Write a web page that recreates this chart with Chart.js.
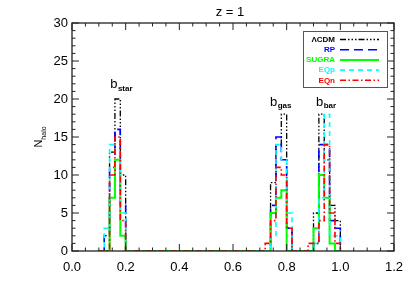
<!DOCTYPE html>
<html>
<head>
<meta charset="utf-8">
<script src="https://cdn.jsdelivr.net/npm/chart.js@4.4.1/dist/chart.umd.min.js"></script>
<style>
  html, body { margin: 0; padding: 0; background: #ffffff; }
  #wrap { width: 415px; height: 297px; }
</style>
</head>
<body>
<div id="wrap"><canvas id="myChart" width="415" height="297"></canvas></div>
<script>
// left edge of every bin (width 0.02); a bin holds its count until the next edge
const binLeft = [0.10, 0.12, 0.14, 0.16, 0.18, 0.20,
                 0.70, 0.72, 0.74, 0.76, 0.78, 0.80, 0.82,
                 0.86, 0.88, 0.90, 0.92, 0.94, 0.96, 0.98, 1.00];

const lcdm  = [0, 0, 13, 20, 10, 0,  0, 0, 9, 14, 18, 3, 0,  0, 0, 5, 18, 12, 6, 4, 0];
const rp    = [0, 2, 11, 16, 6, 0,   0, 0, 6, 15, 12, 3, 0,  0, 0, 1, 14, 14, 4, 3, 0];
const sugra = [0, 0, 7, 12, 2, 0,    0, 0, 5, 7, 8, 0, 0,    0, 0, 3, 10, 7, 1, 0, 0];
const eqp   = [0, 3, 14, 13, 5, 0,   0, 0, 2, 14, 12, 5, 0,  0, 0, 1, 7, 18, 2, 2, 0];
const eqn   = [0, 0, 10, 15, 4, 0,   0, 1, 4, 11, 10, 3, 0,  0, 1, 1, 4, 14, 5, 1, 0];

const seriesNames = ['\u039BCDM', 'RP', 'SUGRA', 'EQp', 'EQn'];
const seriesData = [lcdm, rp, sugra, eqp, eqn];

const xTicks = [0.0, 0.2, 0.4, 0.6, 0.8, 1.0, 1.2];
const yTicks = [0, 5, 10, 15, 20, 25, 30];

// group labels: [main, subscript, x, y]
const groupLabels = [['b', 'star', 0.183, 21.4], ['b', 'gas', 0.777, 19.1], ['b', 'bar', 0.946, 19.1]];

const colors = ['#000000', '#0000ff', '#00ff00', '#00ffff', '#ff0000'];
const dashes = [
    [6, 2, 1.5, 2, 1.5, 2, 1.5, 2], // dash dot dot dot
    [9, 5],                          // long dash
    [],                              // solid
    [5, 4],                          // dash
    [6, 2.5, 1.5, 2.5],              // dash dot
];
const widths = [1.3, 1.6, 2, 1.6, 1.6];

const FONT = '"Liberation Sans", Arial, Helvetica, sans-serif';

const datasets = seriesData.map((vals, i) => ({
    label: seriesNames[i],
    data: vals.map((v, j) => ({ x: binLeft[j], y: v })),
    borderColor: colors[i],
    borderWidth: widths[i],
    borderDash: dashes[i],
    stepped: true,
    pointRadius: 0,
    fill: false,
    order: 5 - i, // EQn drawn on top
}));

// frame with inward ticks on all four sides, IDL style
const framePlugin = {
    id: 'frame',
    afterDraw: (chart) => {
        const ctx = chart.ctx;
        const a = chart.chartArea;
        const xs = chart.scales.x, ys = chart.scales.y;
        ctx.save();
        ctx.strokeStyle = '#222';
        ctx.lineWidth = 1.3;
        ctx.strokeRect(a.left, a.top, a.right - a.left, a.bottom - a.top);
        ctx.lineWidth = 1;
        ctx.beginPath();
        for (let k = 0; k <= 24; k++) {
            const v = k * 0.05;
            const px = xs.getPixelForValue(v);
            const len = (k % 4 === 0) ? 7 : 3.5;
            ctx.moveTo(px, a.bottom); ctx.lineTo(px, a.bottom - len);
            ctx.moveTo(px, a.top); ctx.lineTo(px, a.top + len);
        }
        for (let k = 0; k <= 30; k++) {
            const py = ys.getPixelForValue(k);
            const len = (k % 5 === 0) ? 7 : 3.5;
            ctx.moveTo(a.left, py); ctx.lineTo(a.left + len, py);
            ctx.moveTo(a.right, py); ctx.lineTo(a.right - len, py);
        }
        ctx.stroke();

        // title
        ctx.fillStyle = '#000';
        ctx.font = '13px ' + FONT;
        ctx.textAlign = 'center';
        ctx.textBaseline = 'middle';
        ctx.fillText('z = 1', 230, 12);

        // y title N_halo
        ctx.save();
        ctx.translate(38, 137);
        ctx.rotate(-Math.PI / 2);
        ctx.textAlign = 'left';
        ctx.textBaseline = 'alphabetic';
        ctx.font = '11px ' + FONT;
        const nW = ctx.measureText('N').width;
        ctx.font = '7px ' + FONT;
        const hW = ctx.measureText('halo').width;
        const x0 = -(nW + hW) / 2;
        ctx.font = '11px ' + FONT;
        ctx.fillText('N', x0, 4);
        ctx.font = '7px ' + FONT;
        ctx.fillText('halo', x0 + nW, 8);
        ctx.restore();

        // group labels
        groupLabels.forEach(([m, s, gx, gy]) => {
            const px = xs.getPixelForValue(gx);
            const py = ys.getPixelForValue(gy);
            ctx.font = '13px ' + FONT;
            const mW = ctx.measureText(m).width;
            ctx.font = 'bold 8px ' + FONT;
            const sW = ctx.measureText(s).width;
            const sx = px - (mW + sW) / 2;
            ctx.textAlign = 'left';
            ctx.textBaseline = 'alphabetic';
            ctx.font = '13px ' + FONT;
            ctx.fillText(m, sx, py);
            ctx.font = 'bold 8px ' + FONT;
            ctx.fillText(s, sx + mW + 0.5, py + 2.5);
        });

        // legend box: text on the left, line sample on the right
        const bx = 303, by = 31, bw = 84, bh = 56;
        ctx.fillStyle = '#fff';
        ctx.fillRect(bx, by, bw, bh);
        ctx.strokeStyle = '#555';
        ctx.lineWidth = 1;
        ctx.strokeRect(bx + 0.5, by + 0.5, bw, bh);
        ctx.font = 'bold 8px ' + FONT;
        ctx.textAlign = 'right';
        ctx.textBaseline = 'middle';
        seriesNames.forEach((name, i) => {
            const ry = 39.5 + i * 10.2;
            ctx.fillStyle = colors[i];
            ctx.fillText(name, 335, ry);
            ctx.strokeStyle = colors[i];
            ctx.lineWidth = widths[i];
            ctx.setLineDash(dashes[i]);
            ctx.beginPath();
            ctx.moveTo(340, ry); ctx.lineTo(379, ry);
            ctx.stroke();
            ctx.setLineDash([]);
        });
        ctx.restore();
    },
};

const ctx = document.getElementById('myChart').getContext('2d');

new Chart(ctx, {
    type: 'line',
    data: { datasets: datasets },
    options: {
        responsive: false,
        animation: false,
        layout: { padding: { left: 0, right: 21, top: 23, bottom: 0 } },
        plugins: {
            legend: { display: false },
            tooltip: { enabled: false },
            title: { display: false },
        },
        scales: {
            x: {
                type: 'linear',
                min: 0,
                max: 1.2,
                afterFit: (scale) => { scale.height = 46; },
                afterBuildTicks: (scale) => { scale.ticks = xTicks.map(v => ({ value: v })); },
                grid: { display: false, drawTicks: false },
                border: { display: false },
                ticks: {
                    color: '#000',
                    font: { family: FONT, size: 13 },
                    padding: 9,
                    maxRotation: 0,
                    callback: (v) => v.toFixed(1),
                },
            },
            y: {
                type: 'linear',
                min: 0,
                max: 30,
                afterFit: (scale) => { scale.width = 72; },
                afterBuildTicks: (scale) => { scale.ticks = yTicks.map(v => ({ value: v })); },
                grid: { display: false, drawTicks: false },
                border: { display: false },
                ticks: {
                    color: '#000',
                    font: { family: FONT, size: 13 },
                    padding: 4,
                    callback: (v) => String(v),
                },
            },
        },
    },
    plugins: [framePlugin],
});
</script>
</body>
</html>
